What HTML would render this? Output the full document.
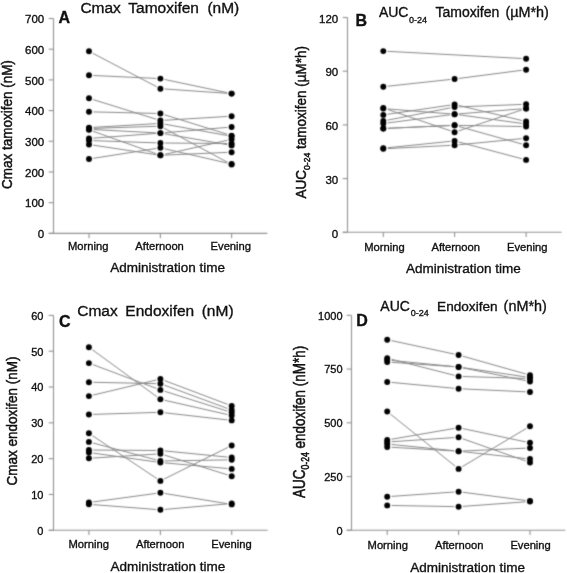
<!DOCTYPE html>
<html><head><meta charset="utf-8"><title>Tamoxifen and endoxifen pharmacokinetics by administration time</title>
<style>
html,body{margin:0;padding:0;background:#fff;}
body{width:567px;height:573px;overflow:hidden;}
svg{display:block;}
text{font-family:"Liberation Sans",sans-serif;fill:#111;stroke:#111;stroke-width:0.35px;}
</style></head><body>
<svg width="567" height="573" viewBox="0 0 567 573">
<defs><filter id="soft" filterUnits="userSpaceOnUse" x="0" y="0" width="567" height="573" color-interpolation-filters="sRGB"><feConvolveMatrix order="3" kernelMatrix="0.03 0.11 0.03 0.11 0.44 0.11 0.03 0.11 0.03" edgeMode="none"/></filter><filter id="gray" filterUnits="userSpaceOnUse" x="0" y="0" width="567" height="573"><feOffset dx="0" dy="0"/></filter></defs>
<rect width="567" height="573" fill="#fff"/>
<g filter="url(#soft)">
<line x1="53.5" y1="18.5" x2="53.5" y2="233.35" stroke="#929292" stroke-width="1.1"/>
<line x1="48.7" y1="233.35" x2="267.3" y2="233.35" stroke="#929292" stroke-width="1.1"/>
<line x1="48.7" y1="233.35" x2="53.5" y2="233.35" stroke="#929292" stroke-width="1.1"/>
<line x1="48.7" y1="202.66" x2="53.5" y2="202.66" stroke="#929292" stroke-width="1.1"/>
<line x1="48.7" y1="171.96" x2="53.5" y2="171.96" stroke="#929292" stroke-width="1.1"/>
<line x1="48.7" y1="141.27" x2="53.5" y2="141.27" stroke="#929292" stroke-width="1.1"/>
<line x1="48.7" y1="110.58" x2="53.5" y2="110.58" stroke="#929292" stroke-width="1.1"/>
<line x1="48.7" y1="79.89" x2="53.5" y2="79.89" stroke="#929292" stroke-width="1.1"/>
<line x1="48.7" y1="49.19" x2="53.5" y2="49.19" stroke="#929292" stroke-width="1.1"/>
<line x1="48.7" y1="18.5" x2="53.5" y2="18.5" stroke="#929292" stroke-width="1.1"/>
<line x1="89.0" y1="233.35" x2="89.0" y2="238.15" stroke="#929292" stroke-width="1.1"/>
<line x1="160.4" y1="233.35" x2="160.4" y2="238.15" stroke="#929292" stroke-width="1.1"/>
<line x1="231.6" y1="233.35" x2="231.6" y2="238.15" stroke="#929292" stroke-width="1.1"/>
<polyline points="89.0,51.3 160.4,88.7 231.6,93.6" fill="none" stroke="#878787" stroke-width="1.0"/>
<polyline points="89.0,75.3 160.4,78.6 231.6,93.6" fill="none" stroke="#878787" stroke-width="1.0"/>
<polyline points="89.0,98.3 160.4,120.5 231.6,116.2" fill="none" stroke="#878787" stroke-width="1.0"/>
<polyline points="89.0,111.8 160.4,113.5 231.6,135.6" fill="none" stroke="#878787" stroke-width="1.0"/>
<polyline points="89.0,127.6 160.4,123.4 231.6,136.3" fill="none" stroke="#878787" stroke-width="1.0"/>
<polyline points="89.0,128.5 160.4,126.2 231.6,164.5" fill="none" stroke="#878787" stroke-width="1.0"/>
<polyline points="89.0,129.3 160.4,133.1 231.6,127.0" fill="none" stroke="#878787" stroke-width="1.0"/>
<polyline points="89.0,129.8 160.4,155.3 231.6,139.3" fill="none" stroke="#878787" stroke-width="1.0"/>
<polyline points="89.0,138.5 160.4,133.1 231.6,145.4" fill="none" stroke="#878787" stroke-width="1.0"/>
<polyline points="89.0,140.5 160.4,143.0 231.6,143.5" fill="none" stroke="#878787" stroke-width="1.0"/>
<polyline points="89.0,144.5 160.4,155.3 231.6,152.2" fill="none" stroke="#878787" stroke-width="1.0"/>
<polyline points="89.0,159.0 160.4,147.8 231.6,164.0" fill="none" stroke="#878787" stroke-width="1.0"/>
<circle cx="89.0" cy="51.3" r="4.4" fill="#fff"/>
<circle cx="160.4" cy="88.7" r="4.4" fill="#fff"/>
<circle cx="231.6" cy="93.6" r="4.4" fill="#fff"/>
<circle cx="89.0" cy="75.3" r="4.4" fill="#fff"/>
<circle cx="160.4" cy="78.6" r="4.4" fill="#fff"/>
<circle cx="231.6" cy="93.6" r="4.4" fill="#fff"/>
<circle cx="89.0" cy="98.3" r="4.4" fill="#fff"/>
<circle cx="160.4" cy="120.5" r="4.4" fill="#fff"/>
<circle cx="231.6" cy="116.2" r="4.4" fill="#fff"/>
<circle cx="89.0" cy="111.8" r="4.4" fill="#fff"/>
<circle cx="160.4" cy="113.5" r="4.4" fill="#fff"/>
<circle cx="231.6" cy="135.6" r="4.4" fill="#fff"/>
<circle cx="89.0" cy="127.6" r="4.4" fill="#fff"/>
<circle cx="160.4" cy="123.4" r="4.4" fill="#fff"/>
<circle cx="231.6" cy="136.3" r="4.4" fill="#fff"/>
<circle cx="89.0" cy="128.5" r="4.4" fill="#fff"/>
<circle cx="160.4" cy="126.2" r="4.4" fill="#fff"/>
<circle cx="231.6" cy="164.5" r="4.4" fill="#fff"/>
<circle cx="89.0" cy="129.3" r="4.4" fill="#fff"/>
<circle cx="160.4" cy="133.1" r="4.4" fill="#fff"/>
<circle cx="231.6" cy="127.0" r="4.4" fill="#fff"/>
<circle cx="89.0" cy="129.8" r="4.4" fill="#fff"/>
<circle cx="160.4" cy="155.3" r="4.4" fill="#fff"/>
<circle cx="231.6" cy="139.3" r="4.4" fill="#fff"/>
<circle cx="89.0" cy="138.5" r="4.4" fill="#fff"/>
<circle cx="160.4" cy="133.1" r="4.4" fill="#fff"/>
<circle cx="231.6" cy="145.4" r="4.4" fill="#fff"/>
<circle cx="89.0" cy="140.5" r="4.4" fill="#fff"/>
<circle cx="160.4" cy="143.0" r="4.4" fill="#fff"/>
<circle cx="231.6" cy="143.5" r="4.4" fill="#fff"/>
<circle cx="89.0" cy="144.5" r="4.4" fill="#fff"/>
<circle cx="160.4" cy="155.3" r="4.4" fill="#fff"/>
<circle cx="231.6" cy="152.2" r="4.4" fill="#fff"/>
<circle cx="89.0" cy="159.0" r="4.4" fill="#fff"/>
<circle cx="160.4" cy="147.8" r="4.4" fill="#fff"/>
<circle cx="231.6" cy="164.0" r="4.4" fill="#fff"/>
<circle cx="89.0" cy="51.3" r="2.95" fill="#000"/>
<circle cx="160.4" cy="88.7" r="2.95" fill="#000"/>
<circle cx="231.6" cy="93.6" r="2.95" fill="#000"/>
<circle cx="89.0" cy="75.3" r="2.95" fill="#000"/>
<circle cx="160.4" cy="78.6" r="2.95" fill="#000"/>
<circle cx="231.6" cy="93.6" r="2.95" fill="#000"/>
<circle cx="89.0" cy="98.3" r="2.95" fill="#000"/>
<circle cx="160.4" cy="120.5" r="2.95" fill="#000"/>
<circle cx="231.6" cy="116.2" r="2.95" fill="#000"/>
<circle cx="89.0" cy="111.8" r="2.95" fill="#000"/>
<circle cx="160.4" cy="113.5" r="2.95" fill="#000"/>
<circle cx="231.6" cy="135.6" r="2.95" fill="#000"/>
<circle cx="89.0" cy="127.6" r="2.95" fill="#000"/>
<circle cx="160.4" cy="123.4" r="2.95" fill="#000"/>
<circle cx="231.6" cy="136.3" r="2.95" fill="#000"/>
<circle cx="89.0" cy="128.5" r="2.95" fill="#000"/>
<circle cx="160.4" cy="126.2" r="2.95" fill="#000"/>
<circle cx="231.6" cy="164.5" r="2.95" fill="#000"/>
<circle cx="89.0" cy="129.3" r="2.95" fill="#000"/>
<circle cx="160.4" cy="133.1" r="2.95" fill="#000"/>
<circle cx="231.6" cy="127.0" r="2.95" fill="#000"/>
<circle cx="89.0" cy="129.8" r="2.95" fill="#000"/>
<circle cx="160.4" cy="155.3" r="2.95" fill="#000"/>
<circle cx="231.6" cy="139.3" r="2.95" fill="#000"/>
<circle cx="89.0" cy="138.5" r="2.95" fill="#000"/>
<circle cx="160.4" cy="133.1" r="2.95" fill="#000"/>
<circle cx="231.6" cy="145.4" r="2.95" fill="#000"/>
<circle cx="89.0" cy="140.5" r="2.95" fill="#000"/>
<circle cx="160.4" cy="143.0" r="2.95" fill="#000"/>
<circle cx="231.6" cy="143.5" r="2.95" fill="#000"/>
<circle cx="89.0" cy="144.5" r="2.95" fill="#000"/>
<circle cx="160.4" cy="155.3" r="2.95" fill="#000"/>
<circle cx="231.6" cy="152.2" r="2.95" fill="#000"/>
<circle cx="89.0" cy="159.0" r="2.95" fill="#000"/>
<circle cx="160.4" cy="147.8" r="2.95" fill="#000"/>
<circle cx="231.6" cy="164.0" r="2.95" fill="#000"/>
<line x1="347.5" y1="17.5" x2="347.5" y2="232.3" stroke="#929292" stroke-width="1.1"/>
<line x1="342.7" y1="232.3" x2="561.6" y2="232.3" stroke="#929292" stroke-width="1.1"/>
<line x1="342.7" y1="232.3" x2="347.5" y2="232.3" stroke="#929292" stroke-width="1.1"/>
<line x1="342.7" y1="178.6" x2="347.5" y2="178.6" stroke="#929292" stroke-width="1.1"/>
<line x1="342.7" y1="124.9" x2="347.5" y2="124.9" stroke="#929292" stroke-width="1.1"/>
<line x1="342.7" y1="71.2" x2="347.5" y2="71.2" stroke="#929292" stroke-width="1.1"/>
<line x1="342.7" y1="17.5" x2="347.5" y2="17.5" stroke="#929292" stroke-width="1.1"/>
<line x1="383.3" y1="232.3" x2="383.3" y2="237.10000000000002" stroke="#929292" stroke-width="1.1"/>
<line x1="454.6" y1="232.3" x2="454.6" y2="237.10000000000002" stroke="#929292" stroke-width="1.1"/>
<line x1="526.1" y1="232.3" x2="526.1" y2="237.10000000000002" stroke="#929292" stroke-width="1.1"/>
<polyline points="383.3,51.1 526.1,58.7" fill="none" stroke="#878787" stroke-width="1.0"/>
<polyline points="383.3,86.7 454.6,79.0 526.1,69.7" fill="none" stroke="#878787" stroke-width="1.0"/>
<polyline points="383.3,108.0 454.6,132.2 526.1,108.5" fill="none" stroke="#878787" stroke-width="1.0"/>
<polyline points="383.3,108.6 454.6,114.2 526.1,124.0" fill="none" stroke="#878787" stroke-width="1.0"/>
<polyline points="383.3,114.9 454.6,104.5 526.1,121.5" fill="none" stroke="#878787" stroke-width="1.0"/>
<polyline points="383.3,121.0 454.6,107.0 526.1,104.3" fill="none" stroke="#878787" stroke-width="1.0"/>
<polyline points="383.3,123.5 454.6,114.2 526.1,108.5" fill="none" stroke="#878787" stroke-width="1.0"/>
<polyline points="383.3,128.5 454.6,125.3 526.1,126.6" fill="none" stroke="#878787" stroke-width="1.0"/>
<polyline points="383.3,128.5 454.6,125.3 526.1,145.2" fill="none" stroke="#878787" stroke-width="1.0"/>
<polyline points="383.3,148.2 454.6,140.9 526.1,159.9" fill="none" stroke="#878787" stroke-width="1.0"/>
<polyline points="383.3,148.8 454.6,145.2 526.1,138.2" fill="none" stroke="#878787" stroke-width="1.0"/>
<circle cx="383.3" cy="51.1" r="4.4" fill="#fff"/>
<circle cx="526.1" cy="58.7" r="4.4" fill="#fff"/>
<circle cx="383.3" cy="86.7" r="4.4" fill="#fff"/>
<circle cx="454.6" cy="79.0" r="4.4" fill="#fff"/>
<circle cx="526.1" cy="69.7" r="4.4" fill="#fff"/>
<circle cx="383.3" cy="108.0" r="4.4" fill="#fff"/>
<circle cx="454.6" cy="132.2" r="4.4" fill="#fff"/>
<circle cx="526.1" cy="108.5" r="4.4" fill="#fff"/>
<circle cx="383.3" cy="108.6" r="4.4" fill="#fff"/>
<circle cx="454.6" cy="114.2" r="4.4" fill="#fff"/>
<circle cx="526.1" cy="124.0" r="4.4" fill="#fff"/>
<circle cx="383.3" cy="114.9" r="4.4" fill="#fff"/>
<circle cx="454.6" cy="104.5" r="4.4" fill="#fff"/>
<circle cx="526.1" cy="121.5" r="4.4" fill="#fff"/>
<circle cx="383.3" cy="121.0" r="4.4" fill="#fff"/>
<circle cx="454.6" cy="107.0" r="4.4" fill="#fff"/>
<circle cx="526.1" cy="104.3" r="4.4" fill="#fff"/>
<circle cx="383.3" cy="123.5" r="4.4" fill="#fff"/>
<circle cx="454.6" cy="114.2" r="4.4" fill="#fff"/>
<circle cx="526.1" cy="108.5" r="4.4" fill="#fff"/>
<circle cx="383.3" cy="128.5" r="4.4" fill="#fff"/>
<circle cx="454.6" cy="125.3" r="4.4" fill="#fff"/>
<circle cx="526.1" cy="126.6" r="4.4" fill="#fff"/>
<circle cx="383.3" cy="128.5" r="4.4" fill="#fff"/>
<circle cx="454.6" cy="125.3" r="4.4" fill="#fff"/>
<circle cx="526.1" cy="145.2" r="4.4" fill="#fff"/>
<circle cx="383.3" cy="148.2" r="4.4" fill="#fff"/>
<circle cx="454.6" cy="140.9" r="4.4" fill="#fff"/>
<circle cx="526.1" cy="159.9" r="4.4" fill="#fff"/>
<circle cx="383.3" cy="148.8" r="4.4" fill="#fff"/>
<circle cx="454.6" cy="145.2" r="4.4" fill="#fff"/>
<circle cx="526.1" cy="138.2" r="4.4" fill="#fff"/>
<circle cx="383.3" cy="51.1" r="2.95" fill="#000"/>
<circle cx="526.1" cy="58.7" r="2.95" fill="#000"/>
<circle cx="383.3" cy="86.7" r="2.95" fill="#000"/>
<circle cx="454.6" cy="79.0" r="2.95" fill="#000"/>
<circle cx="526.1" cy="69.7" r="2.95" fill="#000"/>
<circle cx="383.3" cy="108.0" r="2.95" fill="#000"/>
<circle cx="454.6" cy="132.2" r="2.95" fill="#000"/>
<circle cx="526.1" cy="108.5" r="2.95" fill="#000"/>
<circle cx="383.3" cy="108.6" r="2.95" fill="#000"/>
<circle cx="454.6" cy="114.2" r="2.95" fill="#000"/>
<circle cx="526.1" cy="124.0" r="2.95" fill="#000"/>
<circle cx="383.3" cy="114.9" r="2.95" fill="#000"/>
<circle cx="454.6" cy="104.5" r="2.95" fill="#000"/>
<circle cx="526.1" cy="121.5" r="2.95" fill="#000"/>
<circle cx="383.3" cy="121.0" r="2.95" fill="#000"/>
<circle cx="454.6" cy="107.0" r="2.95" fill="#000"/>
<circle cx="526.1" cy="104.3" r="2.95" fill="#000"/>
<circle cx="383.3" cy="123.5" r="2.95" fill="#000"/>
<circle cx="454.6" cy="114.2" r="2.95" fill="#000"/>
<circle cx="526.1" cy="108.5" r="2.95" fill="#000"/>
<circle cx="383.3" cy="128.5" r="2.95" fill="#000"/>
<circle cx="454.6" cy="125.3" r="2.95" fill="#000"/>
<circle cx="526.1" cy="126.6" r="2.95" fill="#000"/>
<circle cx="383.3" cy="128.5" r="2.95" fill="#000"/>
<circle cx="454.6" cy="125.3" r="2.95" fill="#000"/>
<circle cx="526.1" cy="145.2" r="2.95" fill="#000"/>
<circle cx="383.3" cy="148.2" r="2.95" fill="#000"/>
<circle cx="454.6" cy="140.9" r="2.95" fill="#000"/>
<circle cx="526.1" cy="159.9" r="2.95" fill="#000"/>
<circle cx="383.3" cy="148.8" r="2.95" fill="#000"/>
<circle cx="454.6" cy="145.2" r="2.95" fill="#000"/>
<circle cx="526.1" cy="138.2" r="2.95" fill="#000"/>
<line x1="53.5" y1="315.4" x2="53.5" y2="530.3" stroke="#929292" stroke-width="1.1"/>
<line x1="48.7" y1="530.3" x2="267.6" y2="530.3" stroke="#929292" stroke-width="1.1"/>
<line x1="48.7" y1="530.3" x2="53.5" y2="530.3" stroke="#929292" stroke-width="1.1"/>
<line x1="48.7" y1="494.48" x2="53.5" y2="494.48" stroke="#929292" stroke-width="1.1"/>
<line x1="48.7" y1="458.67" x2="53.5" y2="458.67" stroke="#929292" stroke-width="1.1"/>
<line x1="48.7" y1="422.85" x2="53.5" y2="422.85" stroke="#929292" stroke-width="1.1"/>
<line x1="48.7" y1="387.03" x2="53.5" y2="387.03" stroke="#929292" stroke-width="1.1"/>
<line x1="48.7" y1="351.22" x2="53.5" y2="351.22" stroke="#929292" stroke-width="1.1"/>
<line x1="48.7" y1="315.4" x2="53.5" y2="315.4" stroke="#929292" stroke-width="1.1"/>
<line x1="88.9" y1="530.3" x2="88.9" y2="535.0999999999999" stroke="#929292" stroke-width="1.1"/>
<line x1="160.4" y1="530.3" x2="160.4" y2="535.0999999999999" stroke="#929292" stroke-width="1.1"/>
<line x1="231.7" y1="530.3" x2="231.7" y2="535.0999999999999" stroke="#929292" stroke-width="1.1"/>
<polyline points="88.9,347.2 160.4,399.3 231.7,415.5" fill="none" stroke="#878787" stroke-width="1.0"/>
<polyline points="88.9,363.1 160.4,389.9 231.7,412.5" fill="none" stroke="#878787" stroke-width="1.0"/>
<polyline points="88.9,382.2 160.4,383.7 231.7,410.0" fill="none" stroke="#878787" stroke-width="1.0"/>
<polyline points="88.9,396.1 160.4,379.0 231.7,405.9" fill="none" stroke="#878787" stroke-width="1.0"/>
<polyline points="88.9,414.5 160.4,412.3 231.7,420.4" fill="none" stroke="#878787" stroke-width="1.0"/>
<polyline points="88.9,433.3 160.4,480.9 231.7,445.5" fill="none" stroke="#878787" stroke-width="1.0"/>
<polyline points="88.9,441.9 160.4,461.0 231.7,459.8" fill="none" stroke="#878787" stroke-width="1.0"/>
<polyline points="88.9,450.0 160.4,450.5 231.7,457.5" fill="none" stroke="#878787" stroke-width="1.0"/>
<polyline points="88.9,452.5 160.4,462.5 231.7,468.9" fill="none" stroke="#878787" stroke-width="1.0"/>
<polyline points="88.9,458.3 160.4,453.8 231.7,476.2" fill="none" stroke="#878787" stroke-width="1.0"/>
<polyline points="88.9,502.5 160.4,492.8 231.7,504.4" fill="none" stroke="#878787" stroke-width="1.0"/>
<polyline points="88.9,504.3 160.4,509.8 231.7,503.5" fill="none" stroke="#878787" stroke-width="1.0"/>
<circle cx="88.9" cy="347.2" r="4.4" fill="#fff"/>
<circle cx="160.4" cy="399.3" r="4.4" fill="#fff"/>
<circle cx="231.7" cy="415.5" r="4.4" fill="#fff"/>
<circle cx="88.9" cy="363.1" r="4.4" fill="#fff"/>
<circle cx="160.4" cy="389.9" r="4.4" fill="#fff"/>
<circle cx="231.7" cy="412.5" r="4.4" fill="#fff"/>
<circle cx="88.9" cy="382.2" r="4.4" fill="#fff"/>
<circle cx="160.4" cy="383.7" r="4.4" fill="#fff"/>
<circle cx="231.7" cy="410.0" r="4.4" fill="#fff"/>
<circle cx="88.9" cy="396.1" r="4.4" fill="#fff"/>
<circle cx="160.4" cy="379.0" r="4.4" fill="#fff"/>
<circle cx="231.7" cy="405.9" r="4.4" fill="#fff"/>
<circle cx="88.9" cy="414.5" r="4.4" fill="#fff"/>
<circle cx="160.4" cy="412.3" r="4.4" fill="#fff"/>
<circle cx="231.7" cy="420.4" r="4.4" fill="#fff"/>
<circle cx="88.9" cy="433.3" r="4.4" fill="#fff"/>
<circle cx="160.4" cy="480.9" r="4.4" fill="#fff"/>
<circle cx="231.7" cy="445.5" r="4.4" fill="#fff"/>
<circle cx="88.9" cy="441.9" r="4.4" fill="#fff"/>
<circle cx="160.4" cy="461.0" r="4.4" fill="#fff"/>
<circle cx="231.7" cy="459.8" r="4.4" fill="#fff"/>
<circle cx="88.9" cy="450.0" r="4.4" fill="#fff"/>
<circle cx="160.4" cy="450.5" r="4.4" fill="#fff"/>
<circle cx="231.7" cy="457.5" r="4.4" fill="#fff"/>
<circle cx="88.9" cy="452.5" r="4.4" fill="#fff"/>
<circle cx="160.4" cy="462.5" r="4.4" fill="#fff"/>
<circle cx="231.7" cy="468.9" r="4.4" fill="#fff"/>
<circle cx="88.9" cy="458.3" r="4.4" fill="#fff"/>
<circle cx="160.4" cy="453.8" r="4.4" fill="#fff"/>
<circle cx="231.7" cy="476.2" r="4.4" fill="#fff"/>
<circle cx="88.9" cy="502.5" r="4.4" fill="#fff"/>
<circle cx="160.4" cy="492.8" r="4.4" fill="#fff"/>
<circle cx="231.7" cy="504.4" r="4.4" fill="#fff"/>
<circle cx="88.9" cy="504.3" r="4.4" fill="#fff"/>
<circle cx="160.4" cy="509.8" r="4.4" fill="#fff"/>
<circle cx="231.7" cy="503.5" r="4.4" fill="#fff"/>
<circle cx="88.9" cy="347.2" r="2.95" fill="#000"/>
<circle cx="160.4" cy="399.3" r="2.95" fill="#000"/>
<circle cx="231.7" cy="415.5" r="2.95" fill="#000"/>
<circle cx="88.9" cy="363.1" r="2.95" fill="#000"/>
<circle cx="160.4" cy="389.9" r="2.95" fill="#000"/>
<circle cx="231.7" cy="412.5" r="2.95" fill="#000"/>
<circle cx="88.9" cy="382.2" r="2.95" fill="#000"/>
<circle cx="160.4" cy="383.7" r="2.95" fill="#000"/>
<circle cx="231.7" cy="410.0" r="2.95" fill="#000"/>
<circle cx="88.9" cy="396.1" r="2.95" fill="#000"/>
<circle cx="160.4" cy="379.0" r="2.95" fill="#000"/>
<circle cx="231.7" cy="405.9" r="2.95" fill="#000"/>
<circle cx="88.9" cy="414.5" r="2.95" fill="#000"/>
<circle cx="160.4" cy="412.3" r="2.95" fill="#000"/>
<circle cx="231.7" cy="420.4" r="2.95" fill="#000"/>
<circle cx="88.9" cy="433.3" r="2.95" fill="#000"/>
<circle cx="160.4" cy="480.9" r="2.95" fill="#000"/>
<circle cx="231.7" cy="445.5" r="2.95" fill="#000"/>
<circle cx="88.9" cy="441.9" r="2.95" fill="#000"/>
<circle cx="160.4" cy="461.0" r="2.95" fill="#000"/>
<circle cx="231.7" cy="459.8" r="2.95" fill="#000"/>
<circle cx="88.9" cy="450.0" r="2.95" fill="#000"/>
<circle cx="160.4" cy="450.5" r="2.95" fill="#000"/>
<circle cx="231.7" cy="457.5" r="2.95" fill="#000"/>
<circle cx="88.9" cy="452.5" r="2.95" fill="#000"/>
<circle cx="160.4" cy="462.5" r="2.95" fill="#000"/>
<circle cx="231.7" cy="468.9" r="2.95" fill="#000"/>
<circle cx="88.9" cy="458.3" r="2.95" fill="#000"/>
<circle cx="160.4" cy="453.8" r="2.95" fill="#000"/>
<circle cx="231.7" cy="476.2" r="2.95" fill="#000"/>
<circle cx="88.9" cy="502.5" r="2.95" fill="#000"/>
<circle cx="160.4" cy="492.8" r="2.95" fill="#000"/>
<circle cx="231.7" cy="504.4" r="2.95" fill="#000"/>
<circle cx="88.9" cy="504.3" r="2.95" fill="#000"/>
<circle cx="160.4" cy="509.8" r="2.95" fill="#000"/>
<circle cx="231.7" cy="503.5" r="2.95" fill="#000"/>
<line x1="351.5" y1="315.3" x2="351.5" y2="530.3" stroke="#929292" stroke-width="1.1"/>
<line x1="346.7" y1="530.3" x2="565.3" y2="530.3" stroke="#929292" stroke-width="1.1"/>
<line x1="346.7" y1="530.3" x2="351.5" y2="530.3" stroke="#929292" stroke-width="1.1"/>
<line x1="346.7" y1="476.55" x2="351.5" y2="476.55" stroke="#929292" stroke-width="1.1"/>
<line x1="346.7" y1="422.8" x2="351.5" y2="422.8" stroke="#929292" stroke-width="1.1"/>
<line x1="346.7" y1="369.05" x2="351.5" y2="369.05" stroke="#929292" stroke-width="1.1"/>
<line x1="346.7" y1="315.3" x2="351.5" y2="315.3" stroke="#929292" stroke-width="1.1"/>
<line x1="387.2" y1="530.3" x2="387.2" y2="535.0999999999999" stroke="#929292" stroke-width="1.1"/>
<line x1="458.6" y1="530.3" x2="458.6" y2="535.0999999999999" stroke="#929292" stroke-width="1.1"/>
<line x1="530.0" y1="530.3" x2="530.0" y2="535.0999999999999" stroke="#929292" stroke-width="1.1"/>
<polyline points="387.2,339.7 458.6,355.0 530.0,375.2" fill="none" stroke="#878787" stroke-width="1.0"/>
<polyline points="387.2,358.2 458.6,376.4 530.0,378.5" fill="none" stroke="#878787" stroke-width="1.0"/>
<polyline points="387.2,360.0 458.6,367.0 530.0,381.5" fill="none" stroke="#878787" stroke-width="1.0"/>
<polyline points="387.2,362.0 458.6,367.0 530.0,377.5" fill="none" stroke="#878787" stroke-width="1.0"/>
<polyline points="387.2,382.0 458.6,388.7 530.0,392.0" fill="none" stroke="#878787" stroke-width="1.0"/>
<polyline points="387.2,411.5 458.6,468.9 530.0,426.2" fill="none" stroke="#878787" stroke-width="1.0"/>
<polyline points="387.2,440.0 458.6,427.7 530.0,442.8" fill="none" stroke="#878787" stroke-width="1.0"/>
<polyline points="387.2,442.0 458.6,437.3 530.0,462.5" fill="none" stroke="#878787" stroke-width="1.0"/>
<polyline points="387.2,444.0 458.6,451.2 530.0,448.0" fill="none" stroke="#878787" stroke-width="1.0"/>
<polyline points="387.2,447.0 458.6,451.2 530.0,459.0" fill="none" stroke="#878787" stroke-width="1.0"/>
<polyline points="387.2,496.7 458.6,491.7 530.0,501.0" fill="none" stroke="#878787" stroke-width="1.0"/>
<polyline points="387.2,505.4 458.6,506.7 530.0,501.5" fill="none" stroke="#878787" stroke-width="1.0"/>
<circle cx="387.2" cy="339.7" r="4.4" fill="#fff"/>
<circle cx="458.6" cy="355.0" r="4.4" fill="#fff"/>
<circle cx="530.0" cy="375.2" r="4.4" fill="#fff"/>
<circle cx="387.2" cy="358.2" r="4.4" fill="#fff"/>
<circle cx="458.6" cy="376.4" r="4.4" fill="#fff"/>
<circle cx="530.0" cy="378.5" r="4.4" fill="#fff"/>
<circle cx="387.2" cy="360.0" r="4.4" fill="#fff"/>
<circle cx="458.6" cy="367.0" r="4.4" fill="#fff"/>
<circle cx="530.0" cy="381.5" r="4.4" fill="#fff"/>
<circle cx="387.2" cy="362.0" r="4.4" fill="#fff"/>
<circle cx="458.6" cy="367.0" r="4.4" fill="#fff"/>
<circle cx="530.0" cy="377.5" r="4.4" fill="#fff"/>
<circle cx="387.2" cy="382.0" r="4.4" fill="#fff"/>
<circle cx="458.6" cy="388.7" r="4.4" fill="#fff"/>
<circle cx="530.0" cy="392.0" r="4.4" fill="#fff"/>
<circle cx="387.2" cy="411.5" r="4.4" fill="#fff"/>
<circle cx="458.6" cy="468.9" r="4.4" fill="#fff"/>
<circle cx="530.0" cy="426.2" r="4.4" fill="#fff"/>
<circle cx="387.2" cy="440.0" r="4.4" fill="#fff"/>
<circle cx="458.6" cy="427.7" r="4.4" fill="#fff"/>
<circle cx="530.0" cy="442.8" r="4.4" fill="#fff"/>
<circle cx="387.2" cy="442.0" r="4.4" fill="#fff"/>
<circle cx="458.6" cy="437.3" r="4.4" fill="#fff"/>
<circle cx="530.0" cy="462.5" r="4.4" fill="#fff"/>
<circle cx="387.2" cy="444.0" r="4.4" fill="#fff"/>
<circle cx="458.6" cy="451.2" r="4.4" fill="#fff"/>
<circle cx="530.0" cy="448.0" r="4.4" fill="#fff"/>
<circle cx="387.2" cy="447.0" r="4.4" fill="#fff"/>
<circle cx="458.6" cy="451.2" r="4.4" fill="#fff"/>
<circle cx="530.0" cy="459.0" r="4.4" fill="#fff"/>
<circle cx="387.2" cy="496.7" r="4.4" fill="#fff"/>
<circle cx="458.6" cy="491.7" r="4.4" fill="#fff"/>
<circle cx="530.0" cy="501.0" r="4.4" fill="#fff"/>
<circle cx="387.2" cy="505.4" r="4.4" fill="#fff"/>
<circle cx="458.6" cy="506.7" r="4.4" fill="#fff"/>
<circle cx="530.0" cy="501.5" r="4.4" fill="#fff"/>
<circle cx="387.2" cy="339.7" r="2.95" fill="#000"/>
<circle cx="458.6" cy="355.0" r="2.95" fill="#000"/>
<circle cx="530.0" cy="375.2" r="2.95" fill="#000"/>
<circle cx="387.2" cy="358.2" r="2.95" fill="#000"/>
<circle cx="458.6" cy="376.4" r="2.95" fill="#000"/>
<circle cx="530.0" cy="378.5" r="2.95" fill="#000"/>
<circle cx="387.2" cy="360.0" r="2.95" fill="#000"/>
<circle cx="458.6" cy="367.0" r="2.95" fill="#000"/>
<circle cx="530.0" cy="381.5" r="2.95" fill="#000"/>
<circle cx="387.2" cy="362.0" r="2.95" fill="#000"/>
<circle cx="458.6" cy="367.0" r="2.95" fill="#000"/>
<circle cx="530.0" cy="377.5" r="2.95" fill="#000"/>
<circle cx="387.2" cy="382.0" r="2.95" fill="#000"/>
<circle cx="458.6" cy="388.7" r="2.95" fill="#000"/>
<circle cx="530.0" cy="392.0" r="2.95" fill="#000"/>
<circle cx="387.2" cy="411.5" r="2.95" fill="#000"/>
<circle cx="458.6" cy="468.9" r="2.95" fill="#000"/>
<circle cx="530.0" cy="426.2" r="2.95" fill="#000"/>
<circle cx="387.2" cy="440.0" r="2.95" fill="#000"/>
<circle cx="458.6" cy="427.7" r="2.95" fill="#000"/>
<circle cx="530.0" cy="442.8" r="2.95" fill="#000"/>
<circle cx="387.2" cy="442.0" r="2.95" fill="#000"/>
<circle cx="458.6" cy="437.3" r="2.95" fill="#000"/>
<circle cx="530.0" cy="462.5" r="2.95" fill="#000"/>
<circle cx="387.2" cy="444.0" r="2.95" fill="#000"/>
<circle cx="458.6" cy="451.2" r="2.95" fill="#000"/>
<circle cx="530.0" cy="448.0" r="2.95" fill="#000"/>
<circle cx="387.2" cy="447.0" r="2.95" fill="#000"/>
<circle cx="458.6" cy="451.2" r="2.95" fill="#000"/>
<circle cx="530.0" cy="459.0" r="2.95" fill="#000"/>
<circle cx="387.2" cy="496.7" r="2.95" fill="#000"/>
<circle cx="458.6" cy="491.7" r="2.95" fill="#000"/>
<circle cx="530.0" cy="501.0" r="2.95" fill="#000"/>
<circle cx="387.2" cy="505.4" r="2.95" fill="#000"/>
<circle cx="458.6" cy="506.7" r="2.95" fill="#000"/>
<circle cx="530.0" cy="501.5" r="2.95" fill="#000"/>
</g>
<g filter="url(#gray)">
<text x="44.2" y="238.05" font-size="11.5" font-weight="400" text-anchor="end" >0</text>
<text x="44.2" y="207.36" font-size="11.5" font-weight="400" text-anchor="end" >100</text>
<text x="44.2" y="176.66" font-size="11.5" font-weight="400" text-anchor="end" >200</text>
<text x="44.2" y="145.97" font-size="11.5" font-weight="400" text-anchor="end" >300</text>
<text x="44.2" y="115.28" font-size="11.5" font-weight="400" text-anchor="end" >400</text>
<text x="44.2" y="84.59" font-size="11.5" font-weight="400" text-anchor="end" >500</text>
<text x="44.2" y="53.89" font-size="11.5" font-weight="400" text-anchor="end" >600</text>
<text x="44.2" y="23.2" font-size="11.5" font-weight="400" text-anchor="end" >700</text>
<text x="88.2" y="250.3" font-size="11.2" font-weight="400" text-anchor="middle" >Morning</text>
<text x="159.6" y="250.3" font-size="11.2" font-weight="400" text-anchor="middle" >Afternoon</text>
<text x="230.8" y="250.3" font-size="11.2" font-weight="400" text-anchor="middle" >Evening</text>
<text x="110.2" y="271.7" font-size="13.5" font-weight="400" text-anchor="start" >Administration time</text>
<text x="58.6" y="22.6" font-size="16" font-weight="700" text-anchor="start" >A</text>
<text y="12.7" font-size="15.5"><tspan x="80.4">Cmax</tspan><tspan x="128.3">Tamoxifen</tspan><tspan x="207.4">(nM)</tspan></text>
<text transform="translate(11.7,124.6) rotate(-90) scale(1,1.07)" style="stroke-width:0.45px" font-size="13.5" text-anchor="middle">Cmax tamoxifen (nM)</text>
<text x="338.2" y="237.5" font-size="11.5" font-weight="400" text-anchor="end" >0</text>
<text x="338.2" y="183.8" font-size="11.5" font-weight="400" text-anchor="end" >30</text>
<text x="338.2" y="130.1" font-size="11.5" font-weight="400" text-anchor="end" >60</text>
<text x="338.2" y="76.4" font-size="11.5" font-weight="400" text-anchor="end" >90</text>
<text x="338.2" y="22.7" font-size="11.5" font-weight="400" text-anchor="end" >120</text>
<text x="384.4" y="250.6" font-size="11.2" font-weight="400" text-anchor="middle" >Morning</text>
<text x="455.7" y="250.6" font-size="11.2" font-weight="400" text-anchor="middle" >Afternoon</text>
<text x="527.2" y="250.6" font-size="11.2" font-weight="400" text-anchor="middle" >Evening</text>
<text x="406.0" y="272.7" font-size="13.5" font-weight="400" text-anchor="start" >Administration time</text>
<text x="355.5" y="25.6" font-size="16" font-weight="700" text-anchor="start" >B</text>
<text y="17.3" font-size="14"><tspan x="378.9">AUC</tspan><tspan x="409.0" y="22.6" font-size="9">0-24</tspan><tspan x="435.5" y="17.3">Tamoxifen</tspan><tspan x="505.4" font-size="14.4">(µM*h)</tspan></text>
<text transform="translate(306.2,122.2) rotate(-90) scale(1,1.1)" style="stroke-width:0.45px" font-size="13.5" text-anchor="middle">AUC<tspan font-size="8.6" dy="3.6">0-24</tspan><tspan dy="-3.6"> tamoxifen (µM*h)</tspan></text>
<text x="43.4" y="534.75" font-size="11" font-weight="400" text-anchor="end" >0</text>
<text x="43.4" y="498.93" font-size="11" font-weight="400" text-anchor="end" >10</text>
<text x="43.4" y="463.12" font-size="11" font-weight="400" text-anchor="end" >20</text>
<text x="43.4" y="427.3" font-size="11" font-weight="400" text-anchor="end" >30</text>
<text x="43.4" y="391.48" font-size="11" font-weight="400" text-anchor="end" >40</text>
<text x="43.4" y="355.67" font-size="11" font-weight="400" text-anchor="end" >50</text>
<text x="43.4" y="319.85" font-size="11" font-weight="400" text-anchor="end" >60</text>
<text x="88.7" y="548.3" font-size="11.2" font-weight="400" text-anchor="middle" >Morning</text>
<text x="160.2" y="548.3" font-size="11.2" font-weight="400" text-anchor="middle" >Afternoon</text>
<text x="231.5" y="548.3" font-size="11.2" font-weight="400" text-anchor="middle" >Evening</text>
<text x="110.5" y="570.7" font-size="13.5" font-weight="400" text-anchor="start" >Administration time</text>
<text x="59.0" y="326.6" font-size="16" font-weight="700" text-anchor="start" >C</text>
<text y="315.6" font-size="15.5"><tspan x="77.2">Cmax</tspan><tspan x="125.3">Endoxifen</tspan><tspan x="201.7">(nM)</tspan></text>
<text transform="translate(16.9,421) rotate(-90) scale(1,1.12)" style="stroke-width:0.45px" font-size="13.5" text-anchor="middle">Cmax endoxifen (nM)</text>
<text x="342.6" y="534.5" font-size="11" font-weight="400" text-anchor="end" >0</text>
<text x="342.6" y="480.75" font-size="11" font-weight="400" text-anchor="end" >250</text>
<text x="342.6" y="427.0" font-size="11" font-weight="400" text-anchor="end" >500</text>
<text x="342.6" y="373.25" font-size="11" font-weight="400" text-anchor="end" >750</text>
<text x="342.6" y="319.5" font-size="11" font-weight="400" text-anchor="end" >1000</text>
<text x="387.8" y="549.1" font-size="11.2" font-weight="400" text-anchor="middle" >Morning</text>
<text x="459.2" y="549.1" font-size="11.2" font-weight="400" text-anchor="middle" >Afternoon</text>
<text x="530.6" y="549.1" font-size="11.2" font-weight="400" text-anchor="middle" >Evening</text>
<text x="410.3" y="571.6" font-size="13.5" font-weight="400" text-anchor="start" >Administration time</text>
<text x="356.2" y="326.2" font-size="16" font-weight="700" text-anchor="start" >D</text>
<text y="310.9" font-size="14"><tspan x="380.3">AUC</tspan><tspan x="410.8" y="316.4" font-size="9">0-24</tspan><tspan x="437.1" y="310.9" font-size="13.6">Endoxifen</tspan><tspan x="503.6" font-size="14.4">(nM*h)</tspan></text>
<text transform="translate(305,421.9) rotate(-90) scale(1,1.2)" style="stroke-width:0.45px" font-size="13.5" text-anchor="middle">AUC<tspan font-size="8.6" dy="3.6">0-24</tspan><tspan dy="-3.6"> endoxifen (nM*h)</tspan></text>
</g>
</svg>
</body></html>
